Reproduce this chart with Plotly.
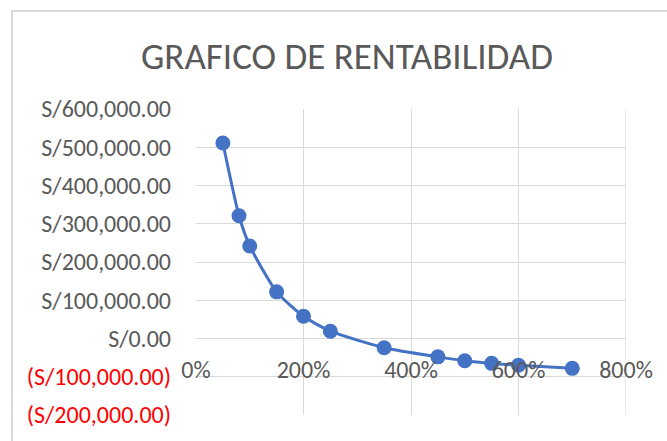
import plotly.graph_objects as go

# Data
x_pct = [50, 80, 100, 150, 200, 250, 350, 450, 500, 550, 600, 700]
profit = [511000, 321000, 242000, 122000, 58000, 19000, -24000, -48000, -58000, -65000, -70000, -78000]
x_ticks = [0, 200, 400, 600, 800]
y_ticks = [600000, 500000, 400000, 300000, 200000, 100000, 0, -100000, -200000]
title_text = "GRAFICO DE RENTABILIDAD"

FONT = "Carlito, Calibri, Lato, sans-serif"
GRAY = "#595959"
GRID = "#d9d9d9"


def fmt_money(v):
    s = "S/{:,.2f}".format(abs(v))
    if v < 0:
        return '<span style="color:#ff0000">(' + s + ')</span>'
    return s


fig = go.Figure()
fig.add_trace(go.Scatter(
    x=x_pct, y=profit, mode="lines+markers",
    line=dict(color="#4472C4", width=3, shape="spline", smoothing=0.6),
    marker=dict(color="#4472C4", size=15),
    showlegend=False,
))

W, H = 667, 441
L, R, T, B = 196, 41, 109, 23
pw, ph = W - L - R, H - T - B

fig.update_layout(
    width=W, height=H,
    margin=dict(l=L, r=R, t=T, b=B),
    paper_bgcolor="white", plot_bgcolor="white",
    font=dict(family=FONT, color=GRAY),
    title=dict(text=title_text, x=347 / W, xanchor="center",
               y=1 - 56 / H, yanchor="middle",
               font=dict(family=FONT, size=37, color=GRAY)),
    xaxis=dict(range=[0, 800], tickvals=x_ticks,
               ticktext=[f"{v}%" for v in x_ticks],
               showgrid=True, gridcolor=GRID, gridwidth=1,
               zeroline=False, showline=False, ticks="",
               anchor="free", position=0.25,
               ticklabelstandoff=14,
               tickfont=dict(size=24, color=GRAY)),
    yaxis=dict(range=[-200000, 600000], tickvals=y_ticks,
               ticktext=[fmt_money(v) for v in y_ticks],
               showgrid=True, gridcolor=GRID, gridwidth=1,
               zeroline=True, zerolinecolor=GRID, zerolinewidth=1,
               showline=False, ticks="",
               ticklabelstandoff=24,
               tickfont=dict(size=24, color=GRAY)),
)

# vertical line at 800% (right edge gridline)
fig.add_shape(type="line", xref="x", yref="paper", x0=800, x1=800, y0=0, y1=1,
              line=dict(color=GRID, width=1), layer="below")

# chart-area border (Excel chart frame)
fig.add_shape(type="rect", xref="paper", yref="paper",
              x0=(12 - L) / pw, x1=(W + 10 - L) / pw,
              y0=-(B + 10) / ph, y1=1 + (T - 10) / ph,
              line=dict(color=GRID, width=2), fillcolor="rgba(0,0,0,0)", layer="below")

fig.write_html("out.html", config={"displayModeBar": False},
               post_script="document.body.style.margin='0';")
